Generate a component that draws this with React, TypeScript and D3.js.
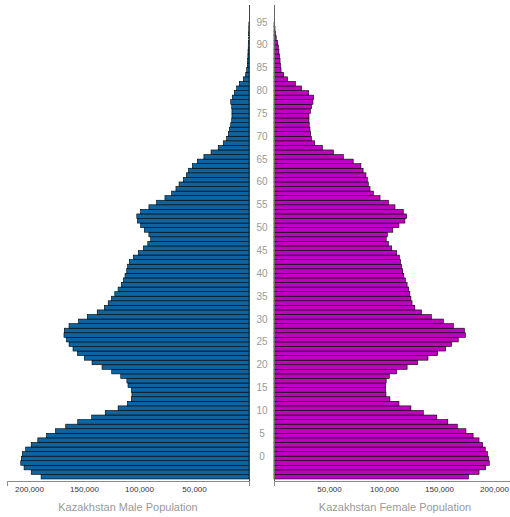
import React, { useEffect, useRef } from "react";
import * as d3 from "d3";

// Bar values from the youngest bar (bottom) to the oldest (top)
const maleValues = [
  189000, 198000, 204500, 207500, 207000, 206000, 203000, 198000, 192000, 184000,
  176000, 166600, 155700, 143000, 130600, 119000, 110600, 107000, 106400, 107000,
  110000, 111000, 116600, 124800, 133600, 142700, 149700, 156000, 160000, 163600,
  166000, 168200, 167900, 163600, 155000, 147000, 138000, 131500, 128000, 125000,
  122000, 119000, 116000, 114200, 112700, 111200, 110300, 108800, 105200, 100600,
  96000, 92000, 89400, 91000, 95200, 98500, 101500, 102000, 98500, 91000,
  84000, 76400, 70300, 66400, 63600, 59700, 57000, 55000, 51500, 47000,
  41000, 34500, 28000, 23400, 20300, 18800, 17900, 16600, 15700, 15500,
  15500, 15700, 16600, 15200, 13300, 11200, 8800, 5200, 3000, 2100,
  1500, 1300, 1000, 900, 700, 500, 400, 300, 200, 100,
];

const femaleValues = [
  176700, 186400, 192400, 195700, 195000, 194000, 192000, 189700, 186400, 181000,
  174500, 166600, 158000, 148000, 135700, 124500, 113600, 105400, 101800, 101500,
  101500, 102000, 104800, 111500, 121000, 130600, 140000, 148800, 156000, 161500,
  167500, 174000, 173000, 163000, 154000, 143000, 134000, 128000, 125500, 124500,
  123500, 122500, 121000, 119500, 118000, 117000, 116000, 115000, 114000, 111500,
  107000, 104000, 102000, 103000, 108000, 113600, 119000, 120600, 117500, 110000,
  104000, 96400, 90300, 87300, 85700, 84800, 83600, 81000, 79000, 72000,
  63000, 54000, 44000, 37000, 34000, 33300, 32700, 32000, 31800, 31800,
  33000, 34000, 35400, 36000, 31500, 25000, 19500, 12400, 8800, 6400,
  5800, 5500, 5000, 4500, 3900, 3300, 2000, 1300, 900, 500,
];

const ageTicks = [0, 5, 10, 15, 20, 25, 30, 35, 40, 45, 50, 55, 60, 65, 70, 75, 80, 85, 90, 95];
const populationTicks = [50000, 100000, 150000, 200000];
const maleTitle = "Kazakhstan Male Population";
const femaleTitle = "Kazakhstan Female Population";

const W = 510;
const H = 517;
const MAX = 220000;
const LEFT_ZERO = 249;
const LEFT_END = 7;
const RIGHT_ZERO = 274;
const RIGHT_END = 516;
const AXIS_Y = 481.5;
const BAR_BOTTOM = 479;
const BAR_TOP = 22;
const LINE_TOP = 5;
const TICK_SHIFT = 5;
const FONT = "'Liberation Sans', Arial, sans-serif";
const MALE_COLOR = "#0e64a0";
const FEMALE_COLOR = "#c000c0";

export default function App() {
  const leftAxisRef = useRef<SVGGElement>(null);
  const rightAxisRef = useRef<SVGGElement>(null);

  const xLeft = d3.scaleLinear().domain([0, MAX]).range([LEFT_ZERO, LEFT_END]);
  const xRight = d3.scaleLinear().domain([0, MAX]).range([RIGHT_ZERO, RIGHT_END]);
  const y = d3.scaleLinear().domain([0, maleValues.length]).range([BAR_BOTTOM, BAR_TOP]);

  useEffect(() => {
    const fmt = d3.format(",");
    const style = (g: any) => {
      g.attr("font-size", 8).attr("font-family", FONT);
      g.select(".domain").attr("stroke", "#8a8a8a");
      g.selectAll(".tick line").remove();
      g.selectAll(".tick text").attr("fill", "#333");
    };
    d3.select(leftAxisRef.current)
      .call(
        d3.axisBottom(xLeft).tickValues(populationTicks).tickFormat(fmt as any)
          .tickSizeInner(0).tickSizeOuter(5).tickPadding(5) as any
      )
      .call(style);
    d3.select(rightAxisRef.current)
      .call(
        d3.axisBottom(xRight).tickValues(populationTicks).tickFormat(fmt as any)
          .tickSizeInner(0).tickSizeOuter(5).tickPadding(5) as any
      )
      .call(style);
  }, []);

  return (
    <svg
      width={W}
      height={H}
      style={{ position: "absolute", left: 0, top: 0, background: "#fff" }}
    >
      <g>
        {maleValues.map((v, i) => (
          <rect
            key={"m" + i}
            x={xLeft(v)}
            y={y(i + 1)}
            width={LEFT_ZERO - xLeft(v)}
            height={y(i) - y(i + 1)}
            fill={MALE_COLOR}
            stroke="#000"
            strokeWidth={0.6}
          />
        ))}
      </g>
      <g>
        {femaleValues.map((v, i) => (
          <rect
            key={"f" + i}
            x={RIGHT_ZERO}
            y={y(i + 1)}
            width={xRight(v) - RIGHT_ZERO}
            height={y(i) - y(i + 1)}
            fill={FEMALE_COLOR}
            stroke="#000"
            strokeWidth={0.6}
          />
        ))}
      </g>
      <line x1={LEFT_ZERO + 0.5} x2={LEFT_ZERO + 0.5} y1={LINE_TOP} y2={AXIS_Y} stroke="#444" />
      <line x1={RIGHT_ZERO + 0.5} x2={RIGHT_ZERO + 0.5} y1={LINE_TOP} y2={AXIS_Y} stroke="#666" />
      <g ref={leftAxisRef} transform={`translate(0,${AXIS_Y - 0.5})`} />
      <g ref={rightAxisRef} transform={`translate(0,${AXIS_Y - 0.5})`} />
      {ageTicks.map((a) => (
        <text
          key={"t" + a}
          x={(LEFT_ZERO + RIGHT_ZERO) / 2 + 0.5}
          y={y(a + TICK_SHIFT)}
          dy="0.35em"
          textAnchor="middle"
          fontSize={10}
          fontFamily={FONT}
          fill="#9a9a9a"
        >
          {a}
        </text>
      ))}
      <text x={(LEFT_ZERO + LEFT_END) / 2} y={511} textAnchor="middle" fontSize={11} fontFamily={FONT} fill="#999">
        {maleTitle}
      </text>
      <text x={(RIGHT_ZERO + RIGHT_END) / 2} y={511} textAnchor="middle" fontSize={11} fontFamily={FONT} fill="#999">
        {femaleTitle}
      </text>
    </svg>
  );
}
